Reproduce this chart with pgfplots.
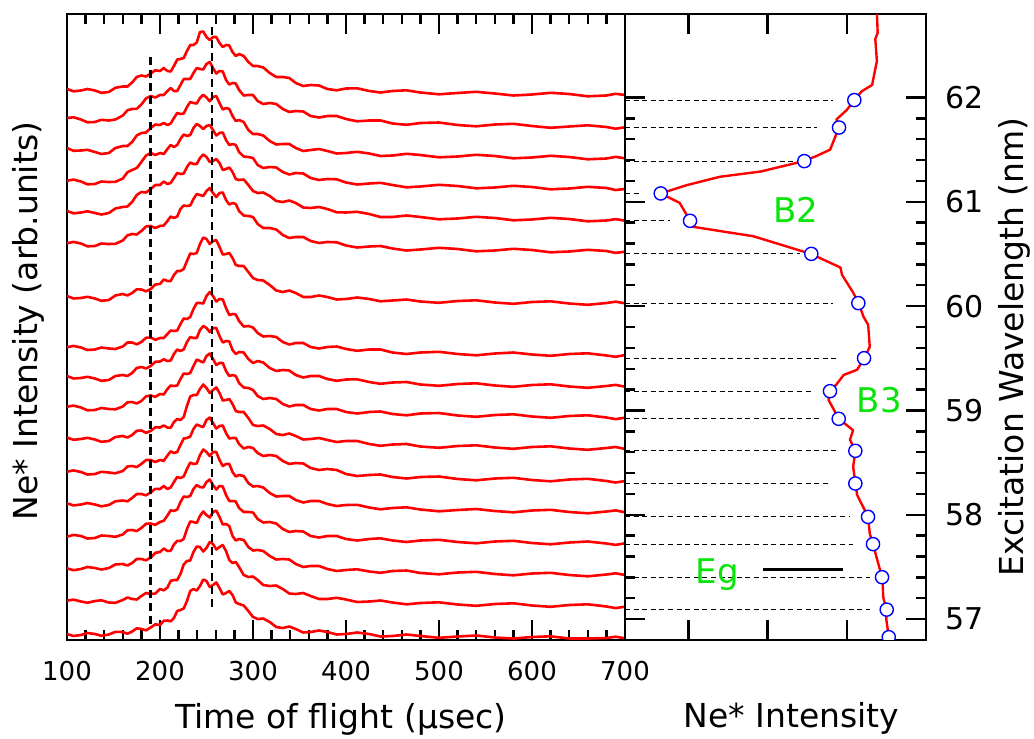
\documentclass[border=0pt]{standalone}
\usepackage{pgfplots}
\pgfplotsset{compat=1.18}
\usepackage{pgfplotstable}
\usepackage{fontspec}
\setmainfont{DejaVu Sans}
\definecolor{lblgreen}{RGB}{10,228,10}
\tikzset{hdash/.style={black, line width=0.55pt, dash pattern=on 2.5pt off 1.8pt, mark=none},
         tk/.style={black, line width=1.2pt, mark=none, solid}}

% x, then the 17 TOF traces (vertical position in picture units, top trace first)
\pgfplotstableread{
x t1 t2 t3 t4 t5 t6 t7 t8 t9 t10 t11 t12 t13 t14 t15 t16 t17
100 89 118 148 180.7 211 243.3 296 347.3 376 406.7 437.5 471.7 503.3 536.7 568.3 600.7 634
107 91.3 117.3 150.8 179.6 213.3 241.9 298.5 345.9 378.5 405.6 439.8 470.4 505.4 534.9 570.2 599.6 636
115 90.5 119.5 150.5 181.5 212.5 243.5 298 347.5 378 407.5 439 472 504.5 536 569 601.5 635
122 89 122.3 149.8 184.3 211.3 246.3 296.8 350 376.8 410.3 437.8 474.5 503 538.5 567 602.8 633
130 90.5 122 152 184 213 246 298.5 349.5 378.5 410 439.5 474 504.5 538 568 601 634
137 92.8 119.8 154 181.5 214.5 243.5 300.8 347.5 380.8 408 441.8 471.8 506.3 535.5 569.5 600.3 635.8
145 92 120.5 153 182 213 244 300 348.5 380 409 441 472.5 505 536 568 602.5 634.5
152 87.8 119.5 148 181.8 208.5 243.8 295.5 349 376 409.3 437 473.3 501.3 536.8 564.5 602.8 631.8
160 86.5 115.5 146 178.5 207 240.5 294 346.5 375 406.5 436 471 500.5 534.5 564 600 632
165 86.5 110.3 146 172.3 206.5 235.3 295.5 342.5 376 402.3 437.5 466.5 501.3 530.3 565.5 597.5 633.8
170 82.5 109 142 170 202 234 293 342.5 373 402 435 466 498 530 563 599 631.5
175 77 108.8 135.5 168 195 234.5 289.3 344.3 368 403.5 430.8 467 494 531 559 599.5 628.3
180 75.5 104.5 133 162 192 231 289.5 342 367 401 430.5 464 494 528 559 596 629
185 76.5 98.3 132.5 155.5 192.5 226.5 291.3 337.8 368.5 396.3 432.8 460 495.3 523.8 560.3 593 630.3
190 73.5 96 128 153 189 226 289 337.5 366 395.5 431 460 492.5 523.5 557.5 594 627.5
195 70.3 97.5 124.5 155 185 228 284.5 339.8 361.8 396.8 427.3 462 488.8 524.8 552.8 593.5 624.3
200 71 95 125 153 185 226 284 338 361.5 394 427.5 460 489 522 552 589 625
204 68 95 123 154 181.5 225.5 279.5 338 359.3 394.5 425.5 460.8 486 520.8 548.5 590.3 620.8
208 71 91 125 149 184 221 281 334 361 389 427.5 455.5 489 515.5 551 587.5 620.5
211.5 71.5 88 123.5 145 183 216.5 281 330.5 360.5 385.5 427.8 451.3 487.5 510.3 550.8 580.8 621.3
215 66 91 118 147 178 218 275 331 354 386 422 453 482 511 544.5 580 618
218.5 59.5 91 113 145 173 216.5 271 330.5 349.5 385.5 419 452 477 509.5 540.8 580 611
222 59 85 114 139 174 209 271 324 351 379 420 445 478 502 541 574 610
225.5 58 79 113.5 134.5 173.5 205.5 269 318.5 349.5 373.5 417 438.5 476.5 496.5 539 564.5 608.5
229 51 79 107 136 167 206 261 319 342 374 406 438 469 497 529 561 601
232.5 45 79 102 135 162.5 205.5 253.5 317 337 373 396.5 436.5 462.5 496 521.5 560.5 591
236 45 73 103 128 164 199 254 309 338 366 395 429 464 489 522 552 589
239.5 42.5 68 103.5 124 164 194 253 303 338 359.5 395 424.5 463.5 485 523 546.5 590.5
243 32 69 98 126 158 195 244 303 330 361 389 426 455 487 516 547 586
246.5 31.5 69.5 94.8 129 154.5 196 237.5 303.5 326 362.5 384.5 427 449.5 487.5 511.5 551.5 579.5
250 37 64 97.5 126 157 191 239 296 328 356 388 420 452 482 515 548 581
253.5 40 62 101.3 125 162 188 244 292 332 353.5 393 417.5 456 479.5 517.5 542 587
257 37 68 97 130 161 193 241 296 328 359 390 423 452 485 512 544 585
260.5 37 73.5 96 135.5 159 197 240 301.5 328 365 387.5 428.5 452 489.5 510.5 549.5 582.5
264 43 71 103 133 163 193 247 299 336 363 393 426 460 486 517 547 588
267.5 47 71.5 109.5 132.5 170 192.5 254.5 299.5 342.5 363 400.5 425.5 466 486.5 524.5 545 594.5
271 45 80 108 140 169 200 254 308 341 371 400 433 464 495 524 551 593
274.5 45.5 84.5 109 145 167.5 204.5 253 315 341.5 376 399 438.5 464 501 526 560 591
278 52 83 116 144 172 203 258 314 350 375 404 438 472 501 536 563 595
281.5 56 83.5 121 145 179 204 265 314.5 354 376 411 438 476.5 501.5 540.5 562 602.5
285 54 90 120 152 180 211 266 321 352 383 412 444 475 508 539 567 604
290 56 95.5 122 156.5 179.5 215.5 266 326.5 352.5 387.5 412 448.5 476 512 540 575 605.5
295 62 95 130 157 185 216 272 326 359 388 418 447 483 512 547 577 611
300 66 95 134 158 191 217 278 327.5 363 390 425 448 486.5 512.5 550.5 576.5 617
305 66 101 134 165 193 224 280 333 361 396 426 453 486 519 550 580 619
311 67.5 104 135.5 168 192.5 228 280.5 336.5 362.5 399 425.5 456 487.5 522.5 551 585 618.5
318 73 103 141 167 196 228 285 336 368 398 429 455 493 522 556 586 622
325 77 104 144.5 167.5 201 229.5 290.5 337 371 399 434 456 496.5 523.5 559.5 585.5 627
332 77 109 144 172 202 235 292 342 370 404 435 461 496 529 559 589 628
339 78 112 144 174.5 200.5 238 290.5 344.5 370.5 406.5 433.5 464 496 532 559.5 593.5 626.5
346 83 111 148 173 203 237 293 343 375 405 436 463 500 531 564 594 629
354 86 111.5 151 173.5 207.5 237 297 343 377.5 405 439.5 463.5 502.5 531.5 567 593 632.5
362 85 116 150 178 208 241 297 347 376 409 439 468 501 536 566 596 632
371 85.5 117.5 149 180 207 243 295.5 348.5 376 410.5 438 470 501 537.5 566 599 630.5
380 89 116 151 179 209 242 297 347 379 409 440 469 504 536 569 599 632
390 90.3 116 153.5 179.3 212.3 242.3 299.5 346.5 380.8 409 442 470 506 536 571 597.8 634.5
400 88.5 119 153 182.5 212.5 245.5 299 349 379.5 412 441 474 505 539 570 599.5 634
412 88.3 121.3 151.8 184.5 211.8 247.5 297.5 350.8 379.3 413.5 441 476 504.8 540.5 569.3 602 632.5
425 91 120.5 153.5 183.5 214 246.5 299 349.5 382 412 444 475 507.5 539 571.5 601.5 634
437 92.5 120.5 156 182.8 217 246 301.3 349.5 383.8 411.5 445.8 474.5 509.3 538.3 572.8 600.5 636.5
450 91 123.5 155.5 185 217 248.5 300.5 352.5 382.5 414 444.5 477 508 540.5 571 602.5 636
465 90.3 124.8 153.8 187.3 215.5 250.5 299.5 354 382 415.3 444 478.5 507.3 542 570.5 604.3 634.5
480 92.5 123 155 186.5 217 249.5 301.5 352.5 384.5 413.5 446.5 477 509.5 540.5 573 603 636
500 94.3 122.5 157.3 184.8 219.3 247.8 302.8 351.8 385.8 413 447.8 476.5 511.3 539.8 574.3 602.3 637.8
520 93 125 156.5 186 218.5 249 301 354 384 415.5 446 479 510 542 572.5 604.5 636.5
540 91.8 126.3 154.8 188.3 216.8 251.3 300.3 355.3 383.3 416.8 445.3 480.3 509 543.3 571.8 605.8 635.5
560 93.5 124.5 156 187.5 218 250.5 302.5 353.5 385.5 415 447.5 478.5 511 541.5 574 604 637.5
580 95.5 123.8 158.3 185.8 220.3 248.8 303.8 352.5 386.8 414.3 448.8 477.8 512.3 540.8 575.3 603.3 638.5
600 94.5 126 157.5 187 219.5 250 302 354.5 385 416.5 447 480 510.5 543 573.5 605.5 637
620 92.8 127.8 155.8 189.3 217.8 252.3 301.3 355.8 384.3 417.8 446.3 481.3 509.8 544.3 572.8 606.8 636.3
640 94 126.5 157 188.5 219 251.5 303.5 354 386.5 416 448.5 479.5 512 542.5 575 605 638.5
660 96.3 125.3 159.3 186.8 221.3 249.8 304.8 353.3 387.8 415.3 449.8 478.8 513.3 541.5 576.3 604.3 638.5
680 95.5 127 158.5 188 220.5 251 303 355.5 386 417.5 448 481 511.5 543.5 574.5 606.5 638
690 93.8 128.7 156.9 190 219.1 252.9 301.7 356.8 384.9 419.1 447 482.5 510.4 544.9 573.3 608.1 636.7
700 95 127.3 158.3 189 220.7 251.7 303.3 355 386.7 417.7 449 481 512.3 543.3 575 606.7 638.3
}\traces

\begin{document}
\begin{tikzpicture}
\useasboundingbox (-33.5pt,-49.5pt) rectangle (483.5pt,320pt);

% ---------------- left panel: TOF spectra ----------------
\begin{axis}[
  at={(0pt,0pt)}, anchor=south west, scale only axis,
  width=279pt, height=313pt,
  xmin=100, xmax=700, ymin=14, ymax=640, y dir=reverse,
  xtick={100,200,...,700}, minor x tick num=4, ytick=\empty,
  xtick pos=both,
  tick align=inside, major tick length=10pt, minor tick length=5pt,
  axis line style={line width=1.3pt},
  tick style={black, line width=1.2pt},
  xticklabel style={font=\fontsize{13}{13}\selectfont, anchor=base, yshift=-20pt, inner sep=0pt},
  /pgf/number format/assume math mode=true,
  /pgf/number format/set thousands separator={},
]
\pgfplotsinvokeforeach{1,...,17}{
  \addplot[red, line width=1.3pt, line join=round, mark=none] table[x=x, y=t#1] {\traces};
}
\addplot[black, line width=1.4pt, dash pattern=on 4pt off 2.5pt, mark=none] coordinates {(190,57) (190,628)};
\addplot[black, line width=1.4pt, dash pattern=on 4pt off 2.5pt, mark=none] coordinates {(256,27) (256,610)};
% top-edge ticks (major 20 units, minor 10 units long; y runs downward)
\addplot[tk, ycomb] coordinates {(200,34) (300,34) (400,34) (500,34) (600,34)};
\addplot[tk, ycomb] coordinates {(120,24) (140,24) (160,24) (180,24) (220,24) (240,24) (260,24) (280,24)
  (320,24) (340,24) (360,24) (380,24) (420,24) (440,24) (460,24) (480,24) (520,24) (540,24) (560,24) (580,24)
  (620,24) (640,24) (660,24) (680,24)};
\end{axis}

% ---------------- right panel: Ne* intensity vs wavelength ----------------
\begin{axis}[
  at={(279pt,0pt)}, anchor=south west, scale only axis,
  width=150.5pt, height=313pt,
  xmin=0, xmax=3.8, ymin=56.8, ymax=62.8,
  xtick={0.8,1.8,2.8}, xticklabel=\empty, xtick pos=both,
  ytick={57,58,...,62}, minor y tick num=4,
  ytick pos=both, yticklabel pos=right,
  tick align=inside, major tick length=10pt, minor tick length=5pt,
  axis line style={line width=1.3pt},
  tick style={black, line width=1.2pt},
  yticklabel style={font=\fontsize{15}{15}\selectfont, anchor=west, xshift=9.5pt, inner sep=0pt},
  /pgf/number format/assume math mode=true,
]
\addplot[hdash] coordinates {(0,61.975) (2.63,61.975)};
\addplot[hdash] coordinates {(0,61.712) (2.42,61.712)};
\addplot[hdash] coordinates {(0,61.390) (2.17,61.390)};
\addplot[hdash] coordinates {(0,61.080) (0.19,61.080)};
\addplot[hdash] coordinates {(0,60.818) (0.57,60.818)};
\addplot[hdash] coordinates {(0,60.501) (2.21,60.501)};
\addplot[hdash] coordinates {(0,60.029) (2.63,60.029)};
\addplot[hdash] coordinates {(0,59.501) (2.68,59.501)};
\addplot[hdash] coordinates {(0,59.185) (2.37,59.185)};
\addplot[hdash] coordinates {(0,58.920) (2.46,58.920)};
\addplot[hdash] coordinates {(0,58.613) (2.68,58.613)};
\addplot[hdash] coordinates {(0,58.300) (2.59,58.300)};
\addplot[hdash] coordinates {(0,57.980) (2.84,57.980)};
\addplot[hdash] coordinates {(0,57.719) (2.88,57.719)};
\addplot[hdash] coordinates {(0,57.402) (3.09,57.402)};
\addplot[hdash] coordinates {(0,57.091) (3.09,57.091)};
% top and bottom edge ticks
\addplot[tk] coordinates {(0.8,62.8) (0.8,62.608)};
\addplot[tk] coordinates {(1.8,62.8) (1.8,62.608)};
\addplot[tk] coordinates {(2.8,62.8) (2.8,62.608)};
\addplot[tk] coordinates {(0.8,56.8) (0.8,56.992)};
\addplot[tk] coordinates {(1.8,56.8) (1.8,56.992)};
\addplot[tk] coordinates {(2.8,56.8) (2.8,56.992)};
% Eg marker line
\addplot[black, line width=1.5pt, mark=none] coordinates {(1.74,57.48) (2.75,57.48)};
% intensity curve
\addplot[red, line width=1.2pt, line join=round, mark=none] coordinates {
(3.18,62.81) (3.19,62.62) (3.16,62.56) (3.18,62.35) (3.12,62.12) (2.99,62.06)
(2.90,61.98) (2.80,61.88) (2.67,61.79) (2.70,61.71) (2.59,61.50) (2.42,61.44)
(2.26,61.39) (1.71,61.29) (1.20,61.24) (0.78,61.16) (0.45,61.08) (0.69,60.99)
(0.82,60.82) (0.86,60.76) (1.62,60.67) (2.35,60.50) (2.72,60.37) (2.74,60.30)
(2.88,60.13) (2.95,60.03) (3.01,59.90) (3.07,59.82) (3.09,59.61) (3.02,59.50)
(2.93,59.39) (2.76,59.34) (2.67,59.25) (2.59,59.19) (2.57,59.10) (2.70,58.92)
(2.88,58.81) (2.84,58.72) (2.91,58.61) (2.88,58.46) (2.91,58.30) (2.93,58.19)
(3.07,57.98) (3.09,57.82) (3.13,57.72) (3.22,57.47) (3.25,57.40) (3.26,57.21)
(3.30,57.09) (3.30,56.99) (3.33,56.83)};
% measured points
\addplot[only marks, mark=*, mark size=3.3pt,
  mark options={fill=white, draw=blue, line width=0.7pt}, clip mode=individual] coordinates {
(2.895,61.975) (2.702,61.712) (2.264,61.390) (0.451,61.080) (0.821,60.818)
(2.352,60.501) (2.946,60.029) (3.018,59.501) (2.588,59.185) (2.698,58.920)
(2.908,58.613) (2.908,58.300) (3.068,57.980) (3.131,57.719) (3.245,57.402)
(3.304,57.091) (3.330,56.827)};
\end{axis}

% ---------------- labels ----------------
\node[rotate=90, anchor=base, font=\fontsize{16.5}{16.5}\selectfont] at (-14.5pt,159.5pt) {Ne* Intensity (arb.units)};
\node[rotate=90, anchor=base, font=\fontsize{16.5}{16.5}\selectfont] at (478.2pt,146.5pt) {Excitation Wavelength (nm)};
\node[anchor=base, font=\fontsize{16.5}{16.5}\selectfont] at (137pt,-44.3pt) {Time of flight (µsec)};
\node[anchor=base, font=\fontsize{16.5}{16.5}\selectfont] at (362.3pt,-43.7pt) {Ne* Intensity};
\node[anchor=base, text=lblgreen, font=\fontsize{17}{17}\selectfont] at (364.4pt,208.7pt) {B2};
\node[anchor=base, text=lblgreen, font=\fontsize{17}{17}\selectfont] at (406.1pt,113.7pt) {B3};
\node[anchor=base, text=lblgreen, font=\fontsize{17}{17}\selectfont] at (325.2pt,28.3pt) {Eg};
\end{tikzpicture}
\end{document}
